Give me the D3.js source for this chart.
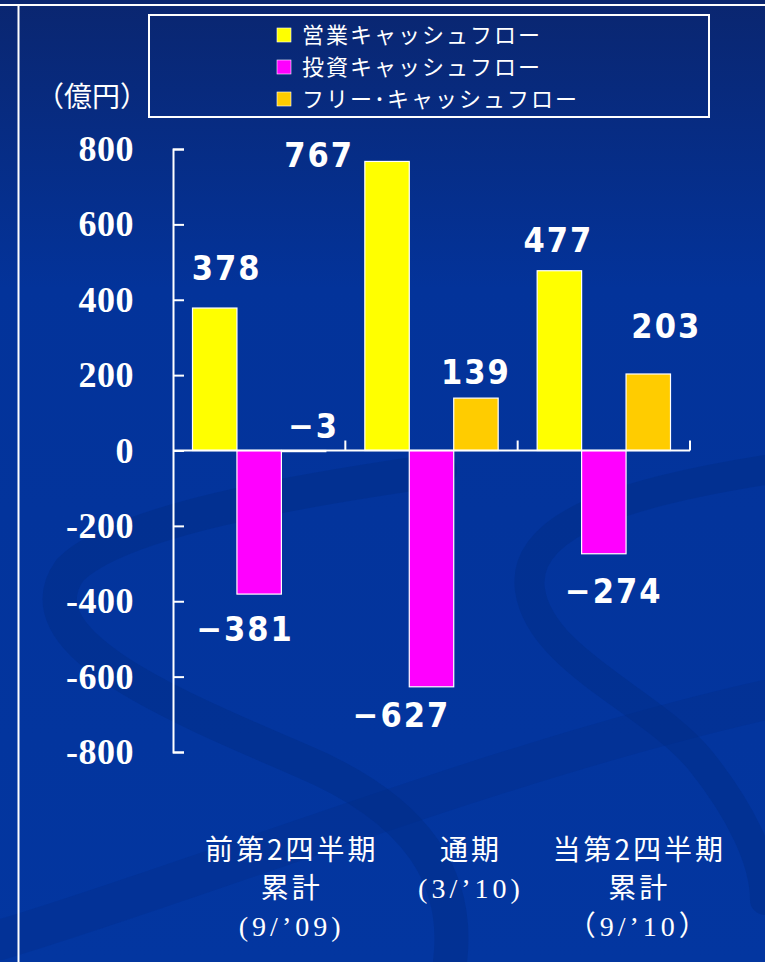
<!DOCTYPE html>
<html><head><meta charset="utf-8">
<script src="https://cdn.jsdelivr.net/npm/d3@7/dist/d3.min.js"></script>
<style>html,body{margin:0;padding:0;background:#003399;}svg{display:block;}</style>
</head><body>
<script>
const categories = ["cat1", "cat2", "cat3"];
const categoryLines = [
  ["前第2四半期", "累計", "(9/’09)"],
  ["通期", "(3/’10)"],
  ["当第2四半期", "累計", "（9/’10）"]
];
const seriesNames = ["営業キャッシュフロー", "投資キャッシュフロー", "フリー･キャッシュフロー"];
const seriesColors = ["#FFFF00", "#FF00FF", "#FFCC00"];
const operatingCF = [378, 767, 477];
const investingCF = [-381, -627, -274];
const freeCF = [-3, 139, 203];
const yTicks = [-800, -600, -400, -200, 0, 200, 400, 600, 800];
const unitLabel = "（億円）";

// layout-only nudges for value labels [dx, dy from bar end]
const labelNudge = [
  [[11, -28], [-15, 47], [9, -14]],
  [[-69, 6], [-31, 40], [-1, -14]],
  [[-2, -19], [9, 49], [17, -36]]
];
const catLabelDx = [31, 38, 34];

const W = 765, H = 962;
const svg = d3.select("body").append("svg").attr("width", W).attr("height", H);
const defs = svg.append("defs");
const grad = defs.append("linearGradient").attr("id", "bg").attr("gradientUnits", "userSpaceOnUse")
  .attr("x1", 0).attr("y1", 0).attr("x2", 0).attr("y2", H);
grad.append("stop").attr("offset", 0).attr("stop-color", "#0a2670");
grad.append("stop").attr("offset", 0.3).attr("stop-color", "#03339a");
grad.append("stop").attr("offset", 1).attr("stop-color", "#0336a0");
svg.append("rect").attr("width", W).attr("height", H).attr("fill", "url(#bg)");

// decorative swirls
const sw = svg.append("g").attr("fill", "none").attr("stroke", "#022c86").attr("stroke-linecap", "round");
sw.append("path").attr("d", "M440,470 C300,490 120,520 70,570 C20,640 160,700 300,760 C420,810 460,880 450,962")
  .attr("stroke-width", 34).attr("opacity", 0.45);
sw.append("path").attr("d", "M765,470 C640,490 520,520 530,590 C540,660 650,700 700,760 C740,810 765,860 765,900")
  .attr("stroke-width", 30).attr("opacity", 0.45);
sw.append("path").attr("d", "M0,940 C200,880 500,760 765,700")
  .attr("stroke-width", 40).attr("opacity", 0.3);

// frame lines
svg.append("line").attr("x1", 0).attr("x2", W).attr("y1", 5).attr("y2", 5).attr("stroke", "#fff").attr("stroke-width", 2);
svg.append("line").attr("x1", 18.5).attr("x2", 18.5).attr("y1", 5).attr("y2", H).attr("stroke", "#fff").attr("stroke-width", 2);

// scales
const x0 = d3.scaleBand().domain(categories).range([173, 690]).padding(0);
const x1 = d3.scaleBand().domain(d3.range(3)).range([19.5, x0.bandwidth() - 19.5]).padding(0);
const y = d3.scaleLinear().domain([-800, 800]).range([752, 149]);

const seriesValues = [operatingCF, investingCF, freeCF];
const fmt = d3.format("d");

// bars
const barG = svg.append("g");
categories.forEach((c, ci) => {
  seriesValues.forEach((vals, si) => {
    const v = vals[ci];
    barG.append("rect")
      .attr("x", x0(c) + x1(si))
      .attr("width", x1.bandwidth())
      .attr("y", y(Math.max(0, v)))
      .attr("height", Math.abs(y(v) - y(0)))
      .attr("fill", seriesColors[si])
      .attr("stroke", "#fff").attr("stroke-width", 1.2);
  });
});

// y axis
const yAxis = d3.axisLeft(y).tickValues(yTicks).tickSizeInner(-11).tickSizeOuter(-11).tickPadding(39)
  .tickFormat(d => d < 0 ? "-" + Math.abs(d) : String(d));
const ya = svg.append("g").attr("transform", "translate(173,0)").call(yAxis);
ya.selectAll("path,line").attr("stroke", "#fff").attr("stroke-width", 2);
ya.selectAll("text").attr("fill", "#fff").style("font-family", "'Liberation Serif','Times New Roman',serif")
  .style("font-weight", "bold").style("font-size", "36px").style("letter-spacing", "0.5px");

// zero line with category ticks
const zg = svg.append("g").attr("transform", `translate(0,${y(0)})`);
zg.append("line").attr("x1", 173).attr("x2", 690).attr("stroke", "#fff").attr("stroke-width", 2);
categories.forEach(c => {
  const bx = x0(c) + x0.bandwidth();
  zg.append("line").attr("x1", bx).attr("x2", bx).attr("y1", 0).attr("y2", -10).attr("stroke", "#fff").attr("stroke-width", 2);
});

// value labels
const lab = svg.append("g").attr("fill", "#fff")
  .style("font-family", "'DejaVu Sans Condensed','DejaVu Sans',sans-serif")
  .style("font-stretch", "condensed")
  .style("font-weight", "bold").style("font-size", "34px").style("letter-spacing", "2px");
categories.forEach((c, ci) => {
  seriesValues.forEach((vals, si) => {
    const v = vals[ci];
    const cx = x0(c) + x1(si) + x1.bandwidth() / 2;
    const n = labelNudge[ci][si];
    lab.append("text").attr("x", cx + n[0] + 1).attr("y", y(v) + n[1])
      .attr("text-anchor", "middle").text(fmt(v));
  });
});

// category labels
const cl = svg.append("g").attr("fill", "#fff").attr("text-anchor", "middle");
categories.forEach((c, ci) => {
  const cx = x0(c) + x0.bandwidth() / 2 + catLabelDx[ci];
  categoryLines[ci].forEach((t, li) => {
    const isCJK = /[\u3000-\u9fff\uff00-\uffef]/.test(t) && !/^[（(]/.test(t);
    cl.append("text").attr("x", cx + 1.5).attr("y", 860 + li * 38)
      .style("font-family", isCJK ? "'Noto Sans CJK JP',sans-serif" : "'Liberation Serif','Noto Sans CJK JP',serif")
      .style("font-size", "28px")
      .style("letter-spacing", isCJK ? "3px" : "4px")
      .text(t);
  });
});

// unit label
svg.append("text").attr("x", 36).attr("y", 107).attr("fill", "#fff")
  .style("font-family", "'Noto Sans CJK JP',sans-serif").style("font-size", "28px").text(unitLabel);

// legend
const lg = svg.append("g");
lg.append("rect").attr("x", 149).attr("y", 15).attr("width", 560).attr("height", 102)
  .attr("fill", "url(#bg)").attr("stroke", "#fff").attr("stroke-width", 2);
seriesNames.forEach((s, i) => {
  const cy = 35 + i * 32;
  lg.append("rect").attr("x", 277).attr("y", cy - 7).attr("width", 14).attr("height", 14)
    .attr("fill", seriesColors[i]).attr("stroke", "#fff").attr("stroke-width", 0.6);
  lg.append("text").attr("x", 302).attr("y", cy).attr("dy", "0.36em").attr("fill", "#fff")
    .style("font-family", "'Noto Sans CJK JP',sans-serif").style("font-size", "22px")
    .style("letter-spacing", "2px").text(s);
});
</script>
</body></html>
